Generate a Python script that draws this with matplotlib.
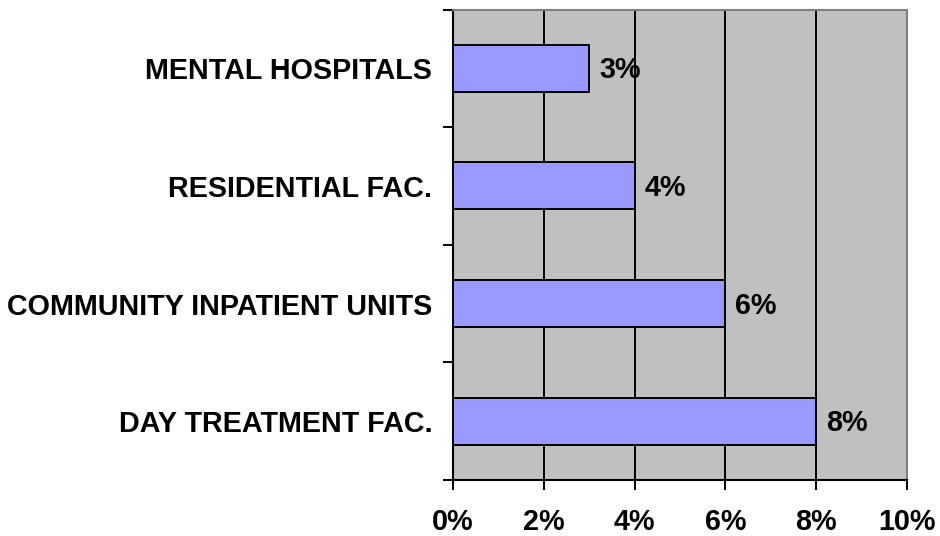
import numpy as np
import matplotlib.pyplot as plt
from matplotlib.ticker import FuncFormatter, MultipleLocator

# dados
categorias = ['DAY TREATMENT FAC.', 'COMMUNITY INPATIENT UNITS',
              'RESIDENTIAL FAC.', 'MENTAL HOSPITALS']
valores = [8, 6, 4, 3]
ticks_x = [0, 2, 4, 6, 8, 10]

plt.rcParams['font.family'] = ['Liberation Sans', 'DejaVu Sans']
plt.rcParams['font.weight'] = 'bold'
tam = 20.7

fig = plt.figure(figsize=(9.4, 5.36), dpi=100)
ax = fig.add_axes([453 / 940, 1 - 480 / 536, 454 / 940, 470.5 / 536])
ax.set_facecolor('#C0C0C0')

y = np.arange(len(categorias))
barras = ax.barh(y, valores, height=0.4, color='#9999FF',
                 edgecolor='black', linewidth=1.4, zorder=3)

# rotulos das barras, linha de base deslocada para centrar os digitos
for b, v in zip(barras, valores):
    ax.annotate(f'{v}%', (b.get_width(), b.get_y() + b.get_height() / 2),
                xytext=(7.2, -7.3), textcoords='offset points',
                va='baseline', ha='left', fontsize=tam, fontweight='bold',
                zorder=4)

ax.set_xlim(0, 10)
ax.set_ylim(-0.5, len(categorias) - 0.5)
ax.set_xticks(ticks_x)
ax.xaxis.set_major_formatter(FuncFormatter(lambda v, p: f'{v:.0f}%'))
ax.tick_params(axis='x', direction='out', length=7.2, width=1.4,
               pad=13, labelsize=tam, color='black')

ax.set_yticks(y)
ax.set_yticklabels(categorias)
ax.yaxis.set_minor_locator(MultipleLocator(1, offset=0.5))
ax.tick_params(axis='y', which='major', length=0, pad=15, labelsize=tam)
ax.tick_params(axis='y', which='minor', direction='out', length=7.2,
               width=1.4, color='black')

ax.grid(axis='x', color='black', linewidth=1.4, zorder=1)
ax.set_axisbelow(True)

for lado in ['left', 'bottom']:
    ax.spines[lado].set_color('black')
    ax.spines[lado].set_linewidth(1.5)
for lado in ['top', 'right']:
    ax.spines[lado].set_color('#808080')
    ax.spines[lado].set_linewidth(1.5)

plt.savefig('out.png', dpi=100)
